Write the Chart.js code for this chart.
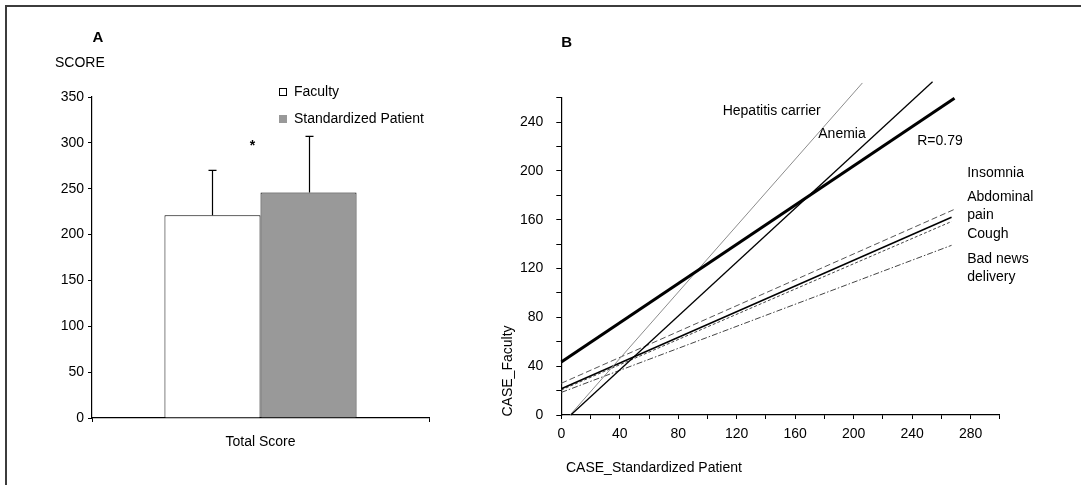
<!DOCTYPE html>
<html>
<head>
<meta charset="utf-8">
<script src="https://cdn.jsdelivr.net/npm/chart.js@4.4.1/dist/chart.umd.min.js"></script>
<style>
  html, body { margin: 0; padding: 0; background: #fff; }
  #wrap { position: relative; width: 1081px; height: 485px; overflow: hidden; background: #fff; }
  #frame { position: absolute; left: 5px; top: 5px; right: -10px; bottom: -10px;
           border-top: 2px solid #3c3c3c; border-left: 2px solid #3c3c3c; }
  #cA { position: absolute; left: 0; top: 0; }
  #cB { position: absolute; left: 480px; top: 0; }
</style>
</head>
<body>
<div id="wrap">
  <div id="frame"></div>
  <canvas id="cA" width="480" height="485"></canvas>
  <canvas id="cB" width="601" height="485"></canvas>
</div>
<script>
// ---- Panel A: total score by rater ----
const groupLabels = ['Faculty', 'Standardized Patient'];
const scoreCategories = ['Total Score'];
const scoreMeans = [221, 246];
const scoreSD = [49, 61];
const scoreFills = ['#ffffff', '#999999'];
const scoreTicks = [0, 50, 100, 150, 200, 250, 300, 350];

// ---- Panel B: regression lines per case ----
const caseNames = ['R=0.79', 'Anemia', 'Hepatitis carrier', 'Insomnia', 'Abdominal pain', 'Cough', 'Bad news delivery'];
const lineStartX = [0, 6.5, 6, 0, 0, 0, 0];
const lineStartY = [43.5, 0, 0, 26, 21.5, 20.5, 18.5];
const lineEndX = [269, 254, 206, 270, 267, 267, 267];
const lineEndY = [259.5, 273, 272, 169, 162, 158.5, 139];
const axisTicksB = [0, 40, 80, 120, 160, 200, 240, 280];

const FONT = "'Liberation Sans', Arial, Helvetica, sans-serif";

const errorBars = {
  id: 'errorBars',
  afterDatasetsDraw(chart) {
    const ctx = chart.ctx, y = chart.scales.y;
    ctx.save();
    ctx.strokeStyle = '#000';
    ctx.lineWidth = 1.2;
    chart.data.datasets.forEach((ds, i) => {
      const bar = chart.getDatasetMeta(i).data[0];
      const x = Math.round(bar.x) + 0.5;
      const y0 = y.getPixelForValue(scoreMeans[i]);
      const y1 = y.getPixelForValue(scoreMeans[i] + scoreSD[i]);
      ctx.beginPath();
      ctx.moveTo(x, y0); ctx.lineTo(x, y1);
      ctx.moveTo(x - 4, y1); ctx.lineTo(x + 4, y1);
      ctx.stroke();
    });
    ctx.restore();
  }
};

const textA = {
  id: 'textA',
  afterDraw(chart) {
    const ctx = chart.ctx, y = chart.scales.y, x = chart.scales.x;
    ctx.save();
    ctx.fillStyle = '#000';
    ctx.textBaseline = 'middle';
    ctx.font = 'bold 15px ' + FONT;
    ctx.textAlign = 'center';
    ctx.fillText('A', 98, 38);
    ctx.font = '14px ' + FONT;
    ctx.textAlign = 'left';
    ctx.fillText('SCORE', 55, 63);
    // legend
    const rows = [92, 119];
    groupLabels.forEach((lab, i) => {
      ctx.fillStyle = scoreFills[i];
      ctx.fillRect(279, rows[i] - 4, 8, 8);
      if (i === 0) {
        ctx.strokeStyle = '#000';
        ctx.lineWidth = 1;
        ctx.strokeRect(279.5, rows[i] - 3.5, 7, 7);
      }
      ctx.fillStyle = '#000';
      ctx.fillText(lab, 294, rows[i]);
    });
    // significance marker
    ctx.font = 'bold 14px ' + FONT;
    ctx.textAlign = 'center';
    ctx.textBaseline = 'alphabetic';
    ctx.fillText('*', x.getPixelForValue(0) - 8, y.getPixelForValue(300) + 7);
    ctx.restore();
  }
};

new Chart(document.getElementById('cA'), {
  type: 'bar',
  data: {
    labels: scoreCategories,
    datasets: groupLabels.map((lab, i) => ({
      label: lab,
      data: [scoreMeans[i]],
      backgroundColor: scoreFills[i],
      borderColor: '#000',
      borderWidth: 1,
      barPercentage: 1,
      categoryPercentage: 0.57
    }))
  },
  options: {
    responsive: false,
    animation: false,
    layout: { padding: { left: 52, right: 51, top: 97, bottom: 27 } },
    plugins: { legend: { display: false }, tooltip: { enabled: false } },
    scales: {
      x: {
        grid: { drawOnChartArea: false, color: '#000', tickLength: 4 },
        border: { color: '#000', width: 1.2 },
        ticks: { color: '#000', font: { family: FONT, size: 14 }, padding: 12 },
        afterFit: s => { s.height = 40; }
      },
      y: {
        min: 0, max: 350,
        afterBuildTicks: s => { s.ticks = scoreTicks.map(v => ({ value: v })); },
        grid: { drawOnChartArea: false, color: '#000', tickLength: 4 },
        border: { color: '#000', width: 1.2 },
        ticks: { color: '#000', font: { family: FONT, size: 14 }, padding: 4 },
        afterFit: s => { s.width = 40; }
      }
    }
  },
  plugins: [errorBars, textA]
});

// ---- Panel B ----
const lineStyles = [
  { color: '#000', width: 3, dash: [] },
  { color: '#000', width: 1.3, dash: [] },
  { color: '#8c8c8c', width: 1, dash: [] },
  { color: '#555', width: 1, dash: [6, 3] },
  { color: '#000', width: 1.5, dash: [] },
  { color: '#444', width: 1, dash: [3, 2] },
  { color: '#444', width: 1, dash: [6, 2, 1.5, 2] }
];

const labelsB = [
  ['Hepatitis carrier', 110.4, 249],
  ['Anemia', 175.8, 230],
  ['R=0.79', 243.5, 224.7],
  ['Insomnia', 277.7, 198.5],
  ['Abdominal', 277.7, 178.8],
  ['pain', 277.7, 163.8],
  ['Cough', 277.7, 148],
  ['Bad news', 277.7, 127.8],
  ['delivery', 277.7, 113.3]
];

const textB = {
  id: 'textB',
  afterDraw(chart) {
    const ctx = chart.ctx, x = chart.scales.x, y = chart.scales.y;
    ctx.save();
    ctx.fillStyle = '#000';
    ctx.textBaseline = 'middle';
    ctx.font = 'bold 15px ' + FONT;
    ctx.textAlign = 'center';
    ctx.fillText('B', 86.7, 42.7);
    ctx.font = '14px ' + FONT;
    ctx.textAlign = 'left';
    labelsB.forEach(([t, vx, vy]) => {
      ctx.fillText(t, x.getPixelForValue(vx), y.getPixelForValue(vy));
    });
    ctx.fillText('CASE_Standardized Patient', 86, 468);
    ctx.translate(28, 371);
    ctx.rotate(-Math.PI / 2);
    ctx.textAlign = 'center';
    ctx.fillText('CASE_Faculty', 0, 0);
    ctx.restore();
  }
};

new Chart(document.getElementById('cB'), {
  type: 'scatter',
  data: {
    datasets: caseNames.map((name, i) => ({
      label: name,
      data: [{ x: lineStartX[i], y: lineStartY[i] }, { x: lineEndX[i], y: lineEndY[i] }],
      showLine: true,
      pointRadius: 0,
      borderColor: lineStyles[i].color,
      borderWidth: lineStyles[i].width,
      borderDash: lineStyles[i].dash,
      clip: false
    }))
  },
  options: {
    responsive: false,
    animation: false,
    layout: { padding: { left: 31.3, right: 81.2, top: 97.6, bottom: 40 } },
    plugins: { legend: { display: false }, tooltip: { enabled: false } },
    scales: {
      x: {
        type: 'linear', min: 0, max: 300,
        grid: { drawOnChartArea: false, color: '#000', tickLength: 4 },
        border: { color: '#000', width: 1.2 },
        ticks: {
          stepSize: 20, autoSkip: false, maxRotation: 0, color: '#000',
          font: { family: FONT, size: 14 }, padding: 7,
          callback: v => axisTicksB.includes(v) ? String(v) : ''
        },
        afterFit: s => { s.height = 30; }
      },
      y: {
        type: 'linear', min: 0, max: 260,
        grid: { drawOnChartArea: false, color: '#000', tickLength: 5 },
        border: { color: '#000', width: 1.2 },
        ticks: {
          stepSize: 20, autoSkip: false, color: '#000',
          font: { family: FONT, size: 14 }, padding: 13,
          callback: v => (v % 40 === 0 && v <= 240) ? String(v) : ''
        },
        afterFit: s => { s.width = 50; }
      }
    }
  },
  plugins: [textB]
});
</script>
</body>
</html>
